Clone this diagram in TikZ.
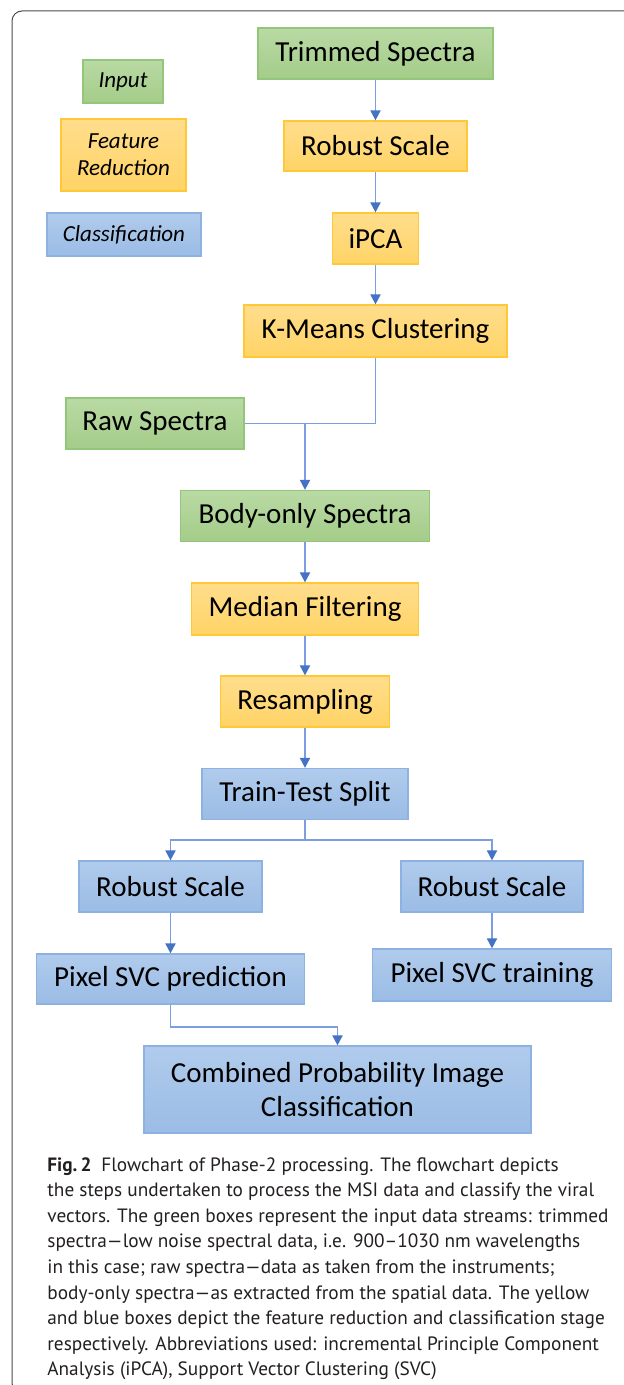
\documentclass[tikz,border=0pt]{standalone}
\usepackage{fontspec}
\setmainfont{Carlito}
\newfontfamily\capfont[Ligatures=TeX]{PT Sans}
\usetikzlibrary{arrows.meta}

\definecolor{inTop}{HTML}{B9DAA4}
\definecolor{inBot}{HTML}{A4CC89}
\definecolor{inLine}{HTML}{93C67B}
\definecolor{frTop}{HTML}{FFDD8C}
\definecolor{frBot}{HTML}{FFD466}
\definecolor{frLine}{HTML}{FFC836}
\definecolor{clTop}{HTML}{B0CBEC}
\definecolor{clBot}{HTML}{9BBCE5}
\definecolor{clLine}{HTML}{8DB2E2}
\definecolor{linkLine}{HTML}{7C9EE0}
\definecolor{linkTip}{HTML}{4472C4}
\definecolor{capText}{HTML}{231F20}

\begin{document}
\begin{tikzpicture}[x=0.5pt,y=0.5pt,yscale=-1,xscale=1,
  inbox/.style={draw=inLine,line width=0.6pt,top color=inTop,bottom color=inBot,inner sep=0pt,align=center},
  frbox/.style={draw=frLine,line width=0.6pt,top color=frTop,bottom color=frBot,inner sep=0pt,align=center},
  clbox/.style={draw=clLine,line width=0.6pt,top color=clTop,bottom color=clBot,inner sep=0pt,align=center},
  boxtext/.style={font=\fontsize{14.5}{17}\selectfont},
  keytext/.style={font=\fontsize{11.5}{13.5}\selectfont\itshape},
  wire/.style={draw=linkLine,line width=0.9pt},
  link/.style={wire,-{Triangle[width=5pt,length=5pt,color=linkTip]}}]
\useasboundingbox (0,0) rectangle (624,1385);
\clip (0,0) rectangle (624,1385);

%Rounded frame
\draw [color=black!70,line width=0.5pt,rounded corners=5pt] (12,11) rectangle (660,1393);

% Text Node
\node [inbox,keytext,minimum width=40pt,minimum height=21.5pt] (keyin) at (123,81.5) {Input};
% Text Node
\node [frbox,keytext,minimum width=62.5pt,minimum height=36pt] (keyfr) at (123.5,155) {Feature\\Reduction};
% Text Node
\node [clbox,keytext,minimum width=77pt,minimum height=21.5pt] (keycl) at (124,234.5) {Classification};

% Text Node
\node [inbox,boxtext,minimum width=117.5pt,minimum height=25.5pt] (trim) at (375.5,53.5) {Trimmed Spectra};
% Text Node
\node [frbox,boxtext,minimum width=91.5pt,minimum height=25pt] (rsfr) at (375.5,146) {Robust Scale};
% Text Node
\node [frbox,boxtext,minimum width=43pt,minimum height=25.5pt] (ipca) at (375.5,238.5) {iPCA};
% Text Node
\node [frbox,boxtext,minimum width=131.5pt,minimum height=26pt] (kmeans) at (375.5,331) {K-Means Clustering};
% Text Node
\node [inbox,boxtext,minimum width=89pt,minimum height=25.5pt] (raw) at (155,423.5) {Raw Spectra};
% Text Node
\node [inbox,boxtext,minimum width=124.5pt,minimum height=25.5pt] (body) at (305,516) {Body-only Spectra};
% Text Node
\node [frbox,boxtext,minimum width=113.5pt,minimum height=26pt] (median) at (305,609) {Median Filtering};
% Text Node
\node [frbox,boxtext,minimum width=84.5pt,minimum height=25.5pt] (resamp) at (305,701.5) {Resampling};
% Text Node
\node [clbox,boxtext,minimum width=103pt,minimum height=25.5pt] (split) at (305,794) {Train-Test Split};
% Text Node
\node [clbox,boxtext,minimum width=91.5pt,minimum height=25.5pt] (rsleft) at (170.5,886.5) {Robust Scale};
% Text Node
\node [clbox,boxtext,minimum width=91pt,minimum height=25.5pt] (rsright) at (492,886.5) {Robust Scale};
% Text Node
\node [clbox,boxtext,minimum width=134pt,minimum height=25pt] (predict) at (170.5,979) {Pixel SVC prediction};
% Text Node
\node [clbox,boxtext,minimum width=119.5pt,minimum height=26pt] (training) at (492,975) {Pixel SVC training};
% Text Node
\node [clbox,boxtext,minimum width=193.5pt,minimum height=43.5pt] (combined) at (337.5,1089.5) {Combined Probability Image\\Classification};

%Straight Lines
\draw [link] (trim) -- (rsfr);
\draw [link] (rsfr) -- (ipca);
\draw [link] (ipca) -- (kmeans);
%Elbow Lines
\draw [wire] (kmeans.south) |- (raw.east);
\draw [link] (raw.east -| body.north) -- (body.north);
%Straight Lines
\draw [link] (body) -- (median);
\draw [link] (median) -- (resamp);
\draw [link] (resamp) -- (split);
%Split Lines
\coordinate (fork) at (305,840);
\draw [wire] (split.south) -- (fork);
\draw [link] (fork) -| (rsleft.north);
\draw [link] (fork) -| (rsright.north);
%Straight Lines
\draw [link] (rsleft) -- (predict);
\draw [link] (rsright) -- (training);
%Elbow Lines
\draw [link] (predict.south) -- ++(0,22) -| (combined.north);

% Text Node
\node [anchor=north west,inner sep=0pt,align=left,text=capText,font=\capfont\fontsize{9.65}{12.8}\selectfont] (caption) at (47,1157) {{\bfseries Fig.\,2}\enspace Flowchart of Phase-2 processing. The flowchart depicts\\
the steps undertaken to process the MSI data and classify the viral\\
vectors. The green boxes represent the input data streams: trimmed\\
spectra---low noise spectral data, i.e. 900--1030 nm wavelengths\\
in this case; raw spectra---data as taken from the instruments;\\
body-only spectra---as extracted from the spatial data. The yellow\\
and blue boxes depict the feature reduction and classification stage\\
respectively. Abbreviations used: incremental Principle Component\\
Analysis (iPCA), Support Vector Clustering (SVC)};

\end{tikzpicture}
\end{document}
